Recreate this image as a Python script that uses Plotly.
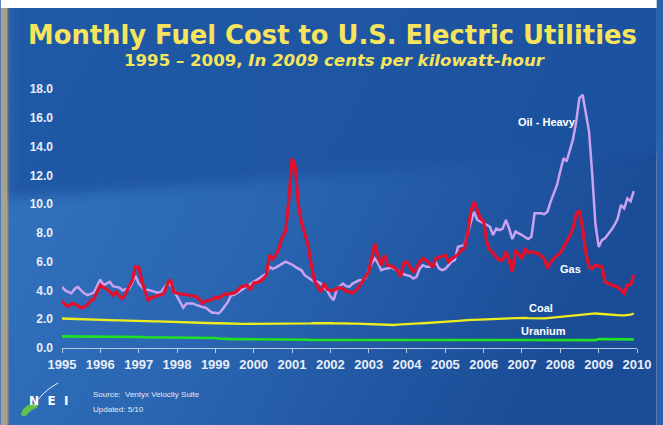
import base64
import pandas as pd
import plotly.graph_objects as go

# ---------------- data (cents per kWh, 2009 dollars), monthly Jan 1995 - Dec 2009 ----------------
months = pd.date_range("1995-01-01", periods=180, freq="MS")

gas = [
    3.27, 3.0, 2.9, 3.1, 3.05, 2.9, 2.8, 2.85, 3.0, 3.3, 3.4, 3.9,          # 1995
    4.37, 4.2, 4.1, 3.9, 3.67, 3.9, 3.6, 3.44, 3.8, 4.3, 4.7, 5.64,        # 1996
    5.64, 4.6, 4.0, 3.32, 3.5, 3.55, 3.6, 3.7, 3.8, 4.48, 4.75, 3.9,       # 1997
    3.8, 3.78, 3.75, 3.7, 3.65, 3.6, 3.58, 3.4, 3.1, 3.27, 3.32, 3.35,     # 1998
    3.55, 3.45, 3.6, 3.74, 3.74, 3.8, 3.83, 4.0, 4.25, 4.3, 4.37, 4.02,    # 1999
    4.5, 4.55, 4.6, 4.8, 5.06, 6.45, 6.2, 6.45, 7.0, 7.73, 8.1, 10.3,      # 2000
    13.19, 12.6, 10.0, 8.7, 8.0, 7.2, 5.88, 4.71, 4.3, 3.9, 4.48, 4.1,     # 2001
    4.0, 4.0, 4.1, 4.2, 4.1, 3.95, 3.9, 3.83, 4.0, 4.25, 4.6, 4.9,         # 2002
    5.3, 6.3, 7.27, 6.34, 5.76, 6.45, 5.76, 5.7, 5.6, 5.4, 4.95, 5.88,     # 2003
    6.0, 5.6, 5.3, 5.53, 6.0, 6.22, 6.1, 5.9, 5.6, 6.22, 6.3, 6.34,        # 2004
    6.45, 6.0, 6.2, 6.34, 6.5, 6.8, 6.9, 7.97, 9.5, 10.17, 9.6, 9.0,       # 2005
    8.8, 7.3, 6.8, 6.6, 6.3, 6.1, 6.1, 6.7, 6.1, 5.3, 6.8, 6.5,            # 2006
    6.2, 6.92, 6.6, 6.7, 6.65, 6.57, 6.4, 6.2, 5.53, 6.0, 6.2, 6.45,       # 2007
    6.6, 7.0, 7.3, 7.8, 8.3, 9.3, 9.55, 8.3, 6.6, 5.64, 5.53, 5.76,        # 2008
    5.7, 5.64, 4.6, 4.5, 4.37, 4.3, 4.25, 4.0, 3.8, 4.37, 4.4, 5.06,       # 2009
]

oil_heavy = [
    4.25, 4.0, 3.9, 3.8, 4.1, 4.25, 4.0, 3.8, 3.67, 3.75, 3.85, 4.3,       # 1995
    4.76, 4.37, 4.5, 4.6, 4.3, 4.25, 4.2, 4.0, 4.1, 4.1, 4.6, 5.0,         # 1996
    4.48, 4.2, 4.0, 4.05, 4.0, 3.95, 3.85, 3.9, 4.2, 4.5, 4.4, 4.0,        # 1997
    3.65, 3.2, 2.8, 3.1, 3.1, 3.1, 3.0, 2.9, 2.85, 2.8, 2.6, 2.45,         # 1998
    2.45, 2.4, 2.6, 2.9, 3.2, 3.67, 3.7, 3.85, 4.0, 4.1, 4.25, 4.4,        # 1999
    4.6, 4.71, 4.83, 5.0, 5.18, 5.64, 5.5, 5.6, 5.72, 5.85, 6.0, 5.9,      # 2000
    5.8, 5.64, 5.5, 5.4, 5.06, 4.9, 4.7, 4.6, 4.6, 4.48, 4.2, 4.0,         # 2001
    3.6, 3.32, 4.0, 4.3, 4.48, 4.3, 4.25, 4.48, 4.6, 4.7, 4.7, 4.83,       # 2002
    5.4, 5.9, 6.22, 5.88, 5.41, 5.5, 5.53, 5.6, 5.5, 5.41, 5.18, 5.1,      # 2003
    5.06, 5.0, 4.83, 4.95, 5.5, 5.76, 5.64, 5.64, 5.64, 6.0, 5.53, 5.41,   # 2004
    5.5, 5.76, 6.0, 6.1, 7.03, 7.1, 7.15, 7.97, 8.66, 9.47, 8.9, 8.8,      # 2005
    8.7, 8.55, 8.43, 7.85, 8.3, 8.2, 8.3, 8.9, 8.3, 7.57, 8.1, 8.0,        # 2006
    7.85, 7.7, 7.57, 7.73, 9.36, 9.36, 9.36, 9.3, 9.47, 10.17, 10.8, 11.33,  # 2007
    12.3, 13.19, 12.96, 13.8, 14.5, 15.74, 17.37, 17.6, 16.3, 15.04, 12.0, 8.6,  # 2008
    7.03, 7.5, 7.62, 7.9, 8.2, 8.55, 9.0, 9.94, 9.7, 10.4, 10.2, 10.9,     # 2009
]

coal = [
    2.05, 2.04, 2.05, 2.05, 2.04, 2.03, 2.03, 2.02, 2.0, 1.98, 1.96, 1.95,
    1.94, 1.93, 1.93, 1.94, 1.93, 1.92, 1.92, 1.91, 1.9, 1.9, 1.89, 1.88,
    1.88, 1.87, 1.87, 1.86, 1.86, 1.85, 1.85, 1.84, 1.83, 1.82, 1.81, 1.81,
    1.80, 1.80, 1.79, 1.79, 1.78, 1.78, 1.77, 1.76, 1.75, 1.74, 1.73, 1.72,
    1.72, 1.72, 1.71, 1.71, 1.70, 1.70, 1.70, 1.69, 1.69, 1.68, 1.68, 1.68,
    1.68, 1.67, 1.67, 1.66, 1.66, 1.66, 1.67, 1.67, 1.66, 1.66, 1.66, 1.66,
    1.67, 1.68, 1.68, 1.69, 1.70, 1.70, 1.71, 1.72, 1.73, 1.73, 1.74, 1.74,
    1.73, 1.72, 1.71, 1.71, 1.72, 1.71, 1.70, 1.70, 1.70, 1.69, 1.69, 1.68,
    1.67, 1.66, 1.64, 1.62, 1.60, 1.58, 1.58, 1.59, 1.60, 1.62, 1.64, 1.66,
    1.68, 1.69, 1.70, 1.70, 1.71, 1.72, 1.73, 1.74, 1.75, 1.76, 1.78, 1.80,
    1.81, 1.82, 1.84, 1.86, 1.88, 1.90, 1.93, 1.94, 1.95, 1.96, 1.97, 1.97,
    1.98, 1.99, 2.00, 2.01, 2.02, 2.03, 2.04, 2.05, 2.06, 2.06, 2.07, 2.08,
    2.09, 2.10, 2.08, 2.07, 2.06, 2.05, 2.05, 2.06, 2.08, 2.10, 2.13, 2.16,
    2.18, 2.20, 2.22, 2.24, 2.26, 2.28, 2.30, 2.33, 2.36, 2.38, 2.40, 2.40,
    2.38, 2.36, 2.33, 2.30, 2.29, 2.28, 2.28, 2.27, 2.27, 2.28, 2.32, 2.40,
]

uranium = [
    0.81, 0.81, 0.81, 0.80, 0.80, 0.80, 0.80, 0.80, 0.79, 0.79, 0.79, 0.79,
    0.79, 0.78, 0.78, 0.78, 0.78, 0.77, 0.77, 0.77, 0.77, 0.76, 0.76, 0.76,
    0.76, 0.76, 0.75, 0.75, 0.75, 0.75, 0.74, 0.74, 0.74, 0.74, 0.73, 0.73,
    0.73, 0.73, 0.73, 0.72, 0.72, 0.72, 0.72, 0.72, 0.71, 0.71, 0.71, 0.71,
    0.70, 0.66, 0.64, 0.63, 0.63, 0.62, 0.62, 0.62, 0.61, 0.61, 0.61, 0.61,
    0.60, 0.60, 0.60, 0.60, 0.59, 0.59, 0.59, 0.59, 0.58, 0.58, 0.58, 0.58,
    0.58, 0.57, 0.57, 0.57, 0.57, 0.57, 0.56, 0.56, 0.56, 0.56, 0.56, 0.56,
    0.56, 0.56, 0.56, 0.56, 0.55, 0.55, 0.55, 0.55, 0.55, 0.55, 0.55, 0.55,
    0.55, 0.55, 0.55, 0.55, 0.55, 0.55, 0.55, 0.55, 0.54, 0.54, 0.54, 0.54,
    0.54, 0.54, 0.54, 0.54, 0.54, 0.54, 0.53, 0.53, 0.53, 0.53, 0.53, 0.53,
    0.53, 0.53, 0.52, 0.52, 0.52, 0.52, 0.52, 0.52, 0.52, 0.52, 0.52, 0.52,
    0.52, 0.52, 0.52, 0.52, 0.52, 0.52, 0.52, 0.52, 0.52, 0.52, 0.52, 0.52,
    0.52, 0.52, 0.53, 0.53, 0.53, 0.53, 0.53, 0.53, 0.53, 0.53, 0.53, 0.53,
    0.53, 0.53, 0.53, 0.54, 0.54, 0.54, 0.54, 0.54, 0.54, 0.54, 0.54, 0.55,
    0.62, 0.62, 0.61, 0.61, 0.61, 0.60, 0.60, 0.60, 0.60, 0.60, 0.60, 0.60,
]

year_ticks = [f"{y}-01-01" for y in range(1995, 2011)]
year_labels = [str(y) for y in range(1995, 2011)]

series_names = ["Oil - Heavy", "Gas", "Coal", "Uranium"]

# ---------------- layout geometry ----------------
W, H = 663, 425
ML, MR, MT, MB = 62, 20, 89, 77
PW, PH = W - ML - MR, H - MT - MB


def px(x):
    return (x - ML) / PW


def py(y):
    return (H - MB - y) / PH


# background (gradient slide) as an SVG image
svg = f'''<svg xmlns="http://www.w3.org/2000/svg" width="{W}" height="{H}" viewBox="0 0 {W} {H}">
<defs>
<linearGradient id="h" x1="0" y1="0" x2="1" y2="0.35">
<stop offset="0" stop-color="#3575bf"/><stop offset="0.5" stop-color="#2a66b2"/><stop offset="1" stop-color="#1b4c97"/>
</linearGradient>
<filter id="b" x="-10%" y="-10%" width="120%" height="120%"><feGaussianBlur stdDeviation="6"/></filter>
</defs>
<rect width="{W}" height="{H}" fill="#ffffff"/>
<rect x="8" y="8" width="{W-8}" height="{H-8}" fill="url(#h)"/>
<polygon points="8,-30 {W+30},-30 {W+30},150 8,198" fill="#1d53a0" opacity="0.82" filter="url(#b)"/>
<rect x="0" y="0" width="{W}" height="8" fill="#ffffff"/>
<rect x="0" y="8" width="7" height="{H-8}" fill="#a4a291"/>
<rect x="7" y="8" width="1" height="{H-8}" fill="#3d4852"/>
</svg>'''
bg_uri = "data:image/svg+xml;base64," + base64.b64encode(svg.encode()).decode()

fig = go.Figure()

colors = {"Oil - Heavy": "#c9a2f2", "Gas": "#e3102c", "Coal": "#ecec1e", "Uranium": "#22e022"}
widths = {"Oil - Heavy": 2.5, "Gas": 3.2, "Coal": 2.3, "Uranium": 2.6}
values = {"Oil - Heavy": oil_heavy, "Gas": gas, "Coal": coal, "Uranium": uranium}

for name in ["Uranium", "Coal", "Oil - Heavy", "Gas"]:
    fig.add_trace(go.Scatter(
        x=months, y=values[name], mode="lines", name=name,
        line=dict(color=colors[name], width=widths[name]),
        showlegend=False, hoverinfo="x+y+name",
    ))

label_font = dict(family="Liberation Sans", size=11, color="#ffffff", weight="bold")
series_labels = [
    ("Oil - Heavy", "2007-09-01", 15.74),
    ("Gas", "2008-04-07", 5.48),
    ("Coal", "2007-07-01", 2.78),
    ("Uranium", "2007-07-23", 1.18),
]
annotations = []
for txt, xd, yv in series_labels:
    annotations.append(dict(x=xd, y=yv, xref="x", yref="y", text=txt, showarrow=False,
                            font=label_font, xanchor="center", yanchor="middle"))

title_col = "#f6e45c"
annotations += [
    dict(x=px(335), y=py(35), xref="paper", yref="paper", showarrow=False,
         text="Monthly Fuel Cost to U.S. Electric Utilities",
         font=dict(family="DejaVu Sans", size=25.8, color=title_col, weight="bold"),
         xanchor="center", yanchor="middle"),
    dict(x=px(338), y=py(60), xref="paper", yref="paper", showarrow=False,
         text="1995 – 2009, <i>In 2009 cents per kilowatt-hour</i>",
         font=dict(family="DejaVu Sans", size=16.6, color=title_col, weight="bold"),
         xanchor="center", yanchor="middle"),
    dict(x=px(91), y=py(394), xref="paper", yref="paper", showarrow=False,
         text="Source:  Ventyx Velocity Suite",
         font=dict(family="Liberation Sans", size=8, color="#e4eaf4"),
         xanchor="left", yanchor="middle"),
    dict(x=px(91), y=py(409), xref="paper", yref="paper", showarrow=False,
         text="Updated: 5/10",
         font=dict(family="Liberation Sans", size=8, color="#e4eaf4"),
         xanchor="left", yanchor="middle"),
    dict(x=px(48.5), y=py(401), xref="paper", yref="paper", showarrow=False,
         text="N&nbsp;&nbsp;E&nbsp;&nbsp;I",
         font=dict(family="DejaVu Sans", size=12, color="#ffffff", weight="bold"),
         xanchor="center", yanchor="middle"),
]

green_path = (f"M {px(21)} {py(415)} Q {px(22)} {py(406)} {px(33)} {py(404)} "
              f"Q {px(38)} {py(404)} {px(37)} {py(407)} Q {px(30)} {py(409)} {px(25)} {py(416)} Z")
white_path = f"M {px(34)} {py(406)} Q {px(41)} {py(392)} {px(58)} {py(383)}"

shapes = [
    dict(type="path", xref="paper", yref="paper", path=green_path,
         fillcolor="#5fc24a", line=dict(color="#5fc24a", width=1), layer="above"),
    dict(type="path", xref="paper", yref="paper", path=white_path,
         line=dict(color="#e8eef6", width=1), layer="above"),
]

fig.update_layout(
    width=W, height=H,
    margin=dict(l=ML, r=MR, t=MT, b=MB, pad=0),
    paper_bgcolor="#2862ae",
    plot_bgcolor="rgba(0,0,0,0)",
    showlegend=False,
    images=[dict(source=bg_uri, xref="paper", yref="paper",
                 x=px(0), y=py(0), sizex=W / PW, sizey=H / PH,
                 xanchor="left", yanchor="top", sizing="stretch", layer="below")],
    annotations=annotations,
    shapes=shapes,
    xaxis=dict(
        type="date", range=["1995-01-01", "2010-01-01"],
        tickmode="array", tickvals=year_ticks, ticktext=year_labels,
        showgrid=False, zeroline=False,
        showline=True, linecolor="#b9c9e2", linewidth=1,
        ticks="outside", ticklen=4, tickcolor="#b9c9e2", tickwidth=1,
        tickfont=dict(family="Liberation Sans", size=13, color="#e8eef7", weight="bold"),
        fixedrange=True,
    ),
    yaxis=dict(
        range=[0, 18], dtick=2, tick0=0, tickformat=".1f",
        showgrid=False, zeroline=False, showline=False, ticks="",
        ticklabelstandoff=8,
        tickfont=dict(family="Liberation Sans", size=12, color="#e8eef7", weight="bold"),
        fixedrange=True,
    ),
)

fig.write_html(
    "out.html",
    config={"displayModeBar": False},
    post_script="document.body.style.margin='0';document.body.style.overflow='hidden';",
)
